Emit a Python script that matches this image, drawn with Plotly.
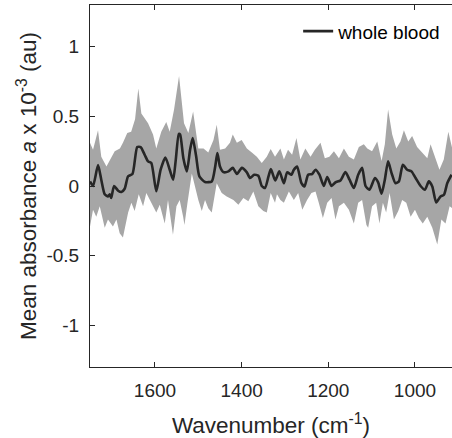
import plotly.graph_objects as go

# Mean spectrum (wavenumber, value x 1e-3)
mean_wn = [1750, 1743, 1731.5, 1724, 1716, 1708.5, 1704.5, 1701, 1694.5, 1685, 1677.5, 1670, 1662, 1652,
           1641, 1633, 1624, 1616, 1608.5, 1597, 1587, 1576, 1566, 1558, 1552, 1545, 1542, 1534.5, 1526.5,
           1519, 1513, 1505, 1497.5, 1484.5, 1469, 1461, 1456, 1450, 1442, 1430.5, 1420.5, 1411, 1399.5,
           1388, 1380.5, 1371, 1361.5, 1353.5, 1346, 1338, 1332.5, 1322.5, 1313, 1302.5, 1295, 1285, 1279.5,
           1272, 1262, 1255, 1246.5, 1237.5, 1229.5, 1220.5, 1210.5, 1202.5, 1192.5, 1183.5, 1172, 1160.5,
           1151, 1141, 1131, 1122, 1114, 1105, 1092.5, 1085, 1077, 1069.5, 1062, 1054, 1045, 1037, 1028,
           1018, 1008, 998.5, 987, 977, 968, 960, 951, 941, 933, 925.5, 915.5]
mean_val = [0.033, 0.0, 0.15, 0.045, -0.06, -0.075, -0.06, -0.086, 0.0, -0.034, -0.043, -0.02, 0.07, 0.086,
            0.28, 0.28, 0.225, 0.177, 0.165, -0.038, 0.117, 0.205, 0.117, 0.045, 0.19, 0.375, 0.37, 0.2, 0.105,
            0.26, 0.345, 0.213, 0.069, 0.029, 0.033, 0.14, 0.237, 0.14, 0.1, 0.105, 0.13, 0.086, 0.13,
            0.098, 0.057, 0.081, 0.074, 0.0, -0.014, 0.069, 0.122, 0.04, 0.105, 0.02, 0.098, 0.081, 0.117,
            0.14, 0.02, -0.003, 0.081, 0.086, 0.117, 0.081, 0.0, 0.065, 0.0, 0.026, 0.04, 0.1,
            0.045, -0.014, 0.081, 0.13, 0.0, -0.027, 0.057, 0.026, -0.055, 0.045, 0.177, 0.093, 0.02, 0.033, 0.153,
            0.117, 0.105, 0.057, 0.0, -0.027, 0.033, -0.003, -0.118, -0.075, -0.063, 0.02, 0.081]

# Upper bound of the shaded band
upper_wn = [1750, 1743, 1731.5, 1724, 1712, 1701, 1693, 1681, 1674, 1664, 1655, 1646, 1638.5, 1631.5, 1624,
            1616, 1604.5, 1597, 1585.5, 1574, 1566, 1556, 1544.5, 1537.5, 1533, 1523, 1512, 1500, 1488,
            1477, 1465, 1457.5, 1450, 1438, 1427, 1420.5, 1411, 1400, 1388, 1376.5, 1365, 1353.5, 1342,
            1333, 1323, 1310.5, 1302.5, 1293, 1283.5, 1273.5, 1264.5, 1253, 1241, 1231, 1218, 1208, 1197.5,
            1187, 1175.5, 1164, 1152.5, 1141, 1129.5, 1118, 1110, 1099, 1087, 1077, 1069.5, 1062, 1052.5,
            1043, 1033.5, 1025.5, 1015.5, 1006.5, 995, 983.5, 971.5, 964, 954, 943.5, 933.5, 923, 914]
upper_val = [0.31, 0.26, 0.40, 0.21, 0.14, 0.21, 0.25, 0.27, 0.31, 0.38, 0.39, 0.48, 0.70, 0.52, 0.49,
             0.45, 0.37, 0.27, 0.39, 0.46, 0.39, 0.55, 0.79, 0.60, 0.45, 0.38, 0.535, 0.27, 0.27,
             0.24, 0.33, 0.44, 0.26, 0.27, 0.31, 0.37, 0.31, 0.33, 0.27, 0.24, 0.21, 0.165, 0.21,
             0.265, 0.21, 0.27, 0.19, 0.26, 0.225, 0.345, 0.19, 0.27, 0.21, 0.26, 0.31, 0.20, 0.21,
             0.25, 0.20, 0.27, 0.21, 0.19, 0.28, 0.30, 0.27, 0.25, 0.32, 0.18, 0.30, 0.55, 0.37,
             0.27, 0.32, 0.40, 0.32, 0.36, 0.28, 0.24, 0.20, 0.30, 0.21, 0.117, 0.19, 0.39, 0.27]

# Lower bound of the shaded band
lower_wn = [1750, 1743, 1735.5, 1727.5, 1716, 1708.5, 1697, 1689, 1681.5, 1674, 1662, 1654.5, 1647, 1637.5,
            1627.5, 1620, 1608.5, 1597, 1589, 1577.5, 1570, 1558.5, 1550.5, 1543, 1535, 1532, 1525, 1515,
            1507.5, 1500, 1492, 1484.5, 1477, 1469, 1457.5, 1446, 1434.5, 1419, 1407.5, 1396, 1384.5, 1373,
            1361.5, 1350, 1342, 1333, 1323, 1318.5, 1310.5, 1302.5, 1291, 1279.5, 1269.5, 1260, 1249, 1239,
            1229.5, 1222, 1212.5, 1202.5, 1192.5, 1183.5, 1175.5, 1164, 1152.5, 1141, 1131, 1122, 1112, 1108,
            1099, 1089.5, 1082, 1074, 1066.5, 1058.5, 1048.5, 1038.5, 1029.5, 1020, 1010, 1000, 991, 982,
            971.5, 960, 948.5, 939, 929.5, 920, 914]
lower_val = [-0.29, -0.17, -0.22, -0.146, -0.30, -0.24, -0.29, -0.24, -0.34, -0.37, -0.19, -0.12, -0.18, -0.06,
             -0.146, -0.05, -0.12, -0.19, -0.134, -0.27, -0.10, -0.35, -0.146, -0.10, -0.22, -0.28, -0.12, 0.09,
             0.0, -0.10, -0.18, -0.10, -0.16, -0.19, 0.02, -0.05, -0.075, -0.10, -0.134, -0.086, -0.11, -0.04,
             -0.146, -0.18, -0.19, -0.05, -0.12, -0.06, -0.10, -0.12, -0.04, -0.10, -0.05, -0.17, -0.10, -0.05,
             -0.04, -0.12, -0.23, -0.12, -0.086, -0.24, -0.146, -0.12, -0.17, -0.27, -0.12, -0.10, -0.28, -0.30,
             -0.146, -0.12, -0.27, -0.12, -0.19, -0.05, -0.24, -0.18, -0.10, -0.12, -0.22, -0.17, -0.23, -0.27,
             -0.22, -0.30, -0.42, -0.24, -0.27, -0.146, -0.16]

x_tick_vals = [1600, 1400, 1200, 1000]
x_tick_text = ["1600", "1400", "1200", "1000"]
y_tick_vals = [-1, -0.5, 0, 0.5, 1]
y_tick_text = ["-1", "-0.5", "0", "0.5", "1"]

FONT = "Liberation Sans, Arial, sans-serif"
AX = "#262626"

fig = go.Figure()
fig.add_trace(go.Scatter(
    x=upper_wn + lower_wn[::-1],
    y=upper_val + lower_val[::-1],
    fill="toself", fillcolor="#a6a6a6", line=dict(width=0),
    mode="lines", hoverinfo="skip", showlegend=False,
))
fig.add_trace(go.Scatter(
    x=mean_wn, y=mean_val, mode="lines", name="whole blood",
    line=dict(color="#262626", width=2.6, shape="spline", smoothing=0.6),
))

fig.update_layout(
    width=452, height=438,
    margin=dict(l=90, r=0, t=5, b=71, autoexpand=False),
    paper_bgcolor="white", plot_bgcolor="white",
    font=dict(family=FONT, color=AX),
    legend=dict(x=0.575, y=0.98, xanchor="left", yanchor="top",
                bgcolor="rgba(0,0,0,0)", font=dict(size=19, color="black"),
                borderwidth=0, itemwidth=30),
    showlegend=True,
)
fig.update_xaxes(
    range=[1750, 914.5], tickvals=x_tick_vals, ticktext=x_tick_text,
    ticks="inside", ticklen=5, tickcolor=AX, showline=True, linecolor=AX, linewidth=1,
    mirror="ticks", showgrid=False, zeroline=False, automargin=False,
    tickfont=dict(size=19, color=AX), ticklabelstandoff=6,
    title=dict(text="Wavenumber (cm<sup>-1</sup>)", font=dict(size=22.5, color=AX), standoff=17),
)
fig.update_yaxes(
    range=[-1.3, 1.3], tickvals=y_tick_vals, ticktext=y_tick_text,
    ticks="inside", ticklen=5, tickcolor=AX, showline=True, linecolor=AX, linewidth=1,
    showgrid=False, zeroline=False, automargin=False,
    tickfont=dict(size=19, color=AX), ticklabelstandoff=6,
    title=dict(text="Mean absorbance <i>a</i> x 10<sup>-3</sup> (au)", font=dict(size=22.5, color=AX), standoff=3),
)

fig.write_html("out.html", config={"displayModeBar": False},
               post_script="document.body.style.margin='0';document.body.style.overflow='hidden';")
